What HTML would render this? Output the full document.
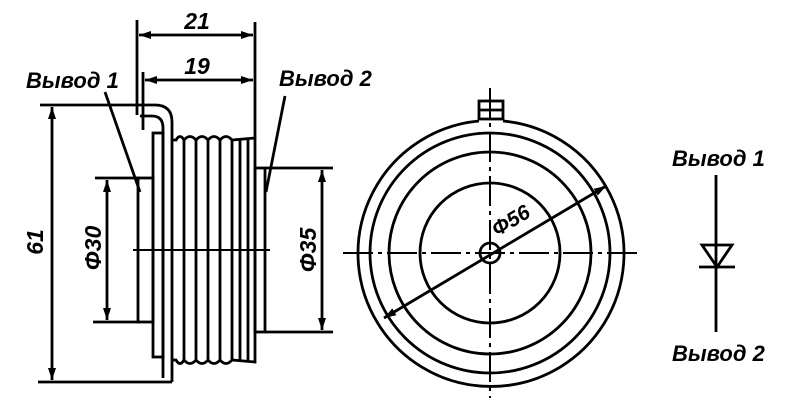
<!DOCTYPE html>
<html><head><meta charset="utf-8"><style>
html,body{margin:0;padding:0;background:#fff;width:796px;height:416px;overflow:hidden}
text{font-family:"Liberation Sans",sans-serif;font-style:italic;font-weight:bold;fill:#000}
</style></head><body>
<svg width="796" height="416" viewBox="0 0 796 416" xmlns="http://www.w3.org/2000/svg">
<defs>
<marker id="a" viewBox="0 0 12 8" refX="12" refY="4" markerWidth="13" markerHeight="8" orient="auto-start-reverse" markerUnits="userSpaceOnUse"><path d="M0,0 L12,4 L0,8 z" fill="#000"/></marker>
</defs>
<g stroke="#000" stroke-width="2.8" fill="none">
<line x1="137" y1="20" x2="137" y2="115"/>
<line x1="255" y1="22" x2="255" y2="138"/>
<line x1="143" y1="72" x2="143" y2="130"/>
<line x1="139" y1="35" x2="253" y2="35" marker-start="url(#a)" marker-end="url(#a)"/>
<line x1="145" y1="80" x2="253" y2="80" marker-start="url(#a)" marker-end="url(#a)"/>
<line x1="40" y1="105" x2="155" y2="105"/>
<line x1="38" y1="382" x2="172" y2="382"/>
<line x1="52" y1="107" x2="52" y2="380" marker-start="url(#a)" marker-end="url(#a)"/>
<path d="M155,105 Q172,105 172,122 L172,382"/>
<path d="M140,116 L152,116 Q163,116 163,128 L163,378"/>
<rect x="153" y="133" width="10" height="224"/>
<rect x="138" y="178" width="15" height="144"/>
<path d="M172,140 L176,140 Q180,133 184,140 Q190,133 196,140 Q202,133 208,140 Q214,133 220,140 Q226,133 232,140 L255,138 L255,362 L232,360 Q226,367 220,360 Q214,367 208,360 Q202,367 196,360 Q190,367 184,360 Q180,367 176,360 L172,360"/>
<line x1="184" y1="140" x2="184" y2="360"/>
<line x1="196" y1="140" x2="196" y2="360"/>
<line x1="208" y1="140" x2="208" y2="360"/>
<line x1="220" y1="140" x2="220" y2="360"/>
<line x1="232" y1="140" x2="232" y2="360"/>
<line x1="240" y1="140" x2="240" y2="360"/>
<line x1="248" y1="140" x2="248" y2="360"/>
<rect x="255" y="168" width="10" height="164"/>
<line x1="95" y1="178" x2="140" y2="178"/>
<line x1="93" y1="322" x2="140" y2="322"/>
<line x1="107" y1="180" x2="107" y2="320" marker-start="url(#a)" marker-end="url(#a)"/>
<line x1="265" y1="168" x2="333" y2="168"/>
<line x1="265" y1="332" x2="333" y2="332"/>
<line x1="322" y1="170" x2="322" y2="330" marker-start="url(#a)" marker-end="url(#a)"/>
<line x1="133" y1="250" x2="270" y2="250" stroke-width="2"/>
<line x1="105" y1="92" x2="140" y2="192"/>
<line x1="285" y1="96" x2="266" y2="192"/>
<path d="M479,121 A133,133 0 1 0 503,121" />
<rect x="479" y="101" width="24" height="18"/>
<line x1="479" y1="110" x2="503" y2="110"/>
<circle cx="490" cy="253" r="120"/>
<circle cx="490" cy="253" r="101"/>
<circle cx="490" cy="253" r="70"/>
<circle cx="490" cy="253" r="10"/>
<line x1="343" y1="253" x2="637" y2="253" stroke-width="2" stroke-dasharray="30,5,4,5"/>
<line x1="490" y1="88" x2="490" y2="398" stroke-width="2" stroke-dasharray="30,5,4,5"/>
<line x1="384" y1="318" x2="606" y2="186" marker-start="url(#a)" marker-end="url(#a)"/>
<line x1="716" y1="175" x2="716" y2="332"/>
<path d="M702,245 L732,245 L717,267 Z"/>
<line x1="699" y1="267" x2="735" y2="267"/>
</g>
<text x="197" y="29" font-size="23" text-anchor="middle">21</text>
<text x="197" y="74" font-size="23" text-anchor="middle">19</text>
<text x="26" y="88" font-size="22">Вывод 1</text>
<text x="279" y="86" font-size="22">Вывод 2</text>
<text x="672" y="166" font-size="22">Вывод 1</text>
<text x="672" y="361" font-size="22">Вывод 2</text>
<text transform="translate(43,242) rotate(-90)" font-size="23" text-anchor="middle">61</text>
<text transform="translate(101,248) rotate(-90)" font-size="23" text-anchor="middle">Φ30</text>
<text transform="translate(316,250) rotate(-90)" font-size="23" text-anchor="middle">Φ35</text>
<text transform="translate(497,237) rotate(-31)" font-size="21">Φ56</text>
</svg>
</body></html>
